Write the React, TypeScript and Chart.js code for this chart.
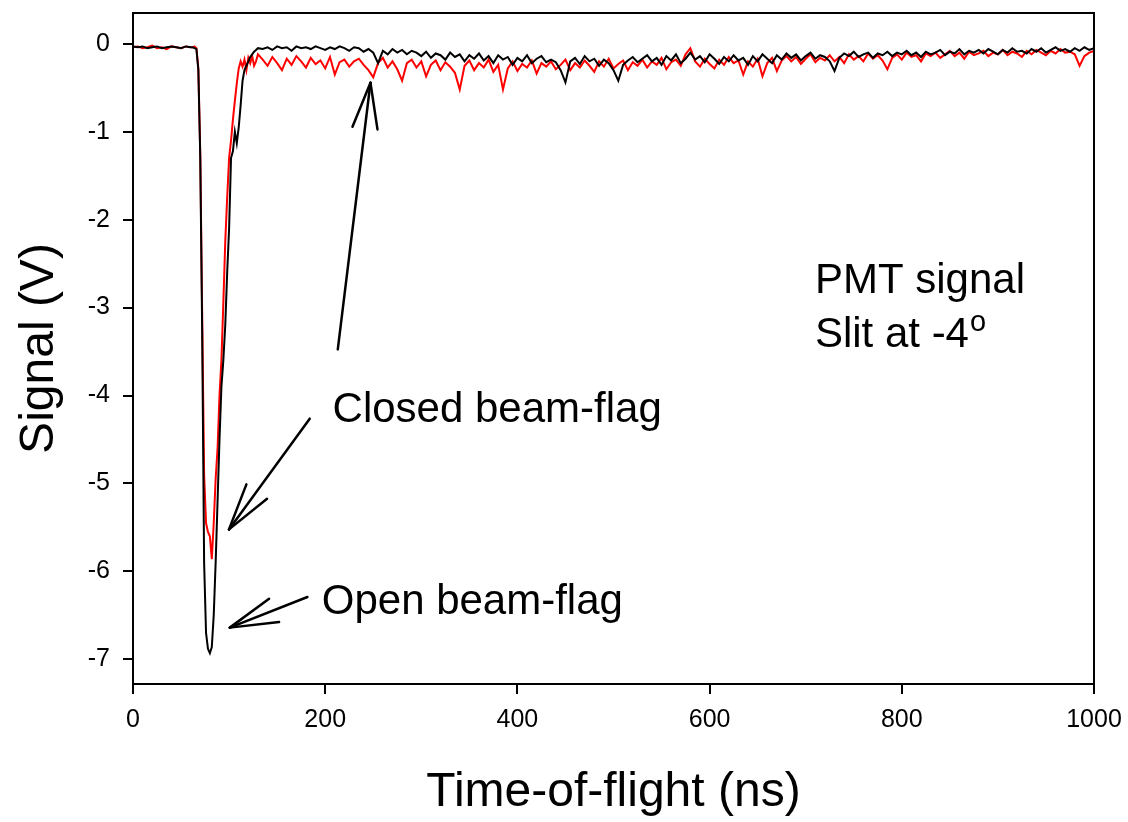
import React, { useEffect, useRef } from "react";
import { Chart, registerables } from "chart.js";

Chart.register(...registerables);

// ---- data (ns, V) ----
const timeNs = [
  0, 5, 10, 15, 20, 25, 30, 35, 40, 45, 50, 55, 60,
  62, 64, 66, 68, 70, 72, 74, 76, 78, 80, 82, 84, 86, 88, 90, 92, 94, 96, 98, 100,
  102, 104, 106, 108, 110, 112, 114, 116, 118, 120, 122, 124, 126, 128, 130,
  135, 140, 145, 150, 155, 160, 165, 170, 175, 180,
  185, 190, 195, 200, 205, 210, 215, 220, 225, 230,
  235, 240, 245, 250, 255, 260, 265, 270, 275, 280,
  285, 290, 295, 300, 305, 310, 315, 320, 325, 330,
  335, 340, 345, 350, 355, 360, 365, 370, 375, 380,
  385, 390, 395, 400, 405, 410, 415, 420, 425, 430,
  435, 440, 445, 450, 455, 460, 465, 470, 475, 480,
  485, 490, 495, 500, 505, 510, 515, 520, 525, 530,
  535, 540, 545, 550, 555, 560, 565, 570, 575, 580,
  585, 590, 595, 600, 605, 610, 615, 620, 625, 630,
  635, 640, 645, 650, 655, 660, 665, 670, 675, 680,
  685, 690, 695, 700, 705, 710, 715, 720, 725, 730,
  735, 740, 745, 750, 755, 760, 765, 770, 775, 780,
  785, 790, 795, 800, 805, 810, 815, 820, 825, 830,
  835, 840, 845, 850, 855, 860, 865, 870, 875, 880,
  885, 890, 895, 900, 905, 910, 915, 920, 925, 930,
  935, 940, 945, 950, 955, 960, 965, 970, 975, 980,
  985, 990, 995, 1000,
];

const openFlagV = [
  -0.03, -0.04, -0.03, -0.05, -0.04, -0.03, -0.05, -0.04, -0.03, -0.04, -0.05, -0.03, -0.04,
  -0.04, -0.05, -0.06, -0.3, -1.3, -3.3, -5.9, -6.7, -6.88, -6.93,
  -6.86, -6.5, -5.9, -5.2, -4.5, -3.9, -3.6, -3.2, -2.6, -2.1,
  -1.3, -1.22, -1.0, -1.13, -0.95, -0.7, -0.42, -0.3, -0.25, -0.2,
  -0.15, -0.12, -0.09, -0.07, -0.05,
  -0.06, -0.04, -0.07, -0.03, -0.05, -0.04, -0.08, -0.03, -0.05, -0.04,
  -0.06, -0.03, -0.05, -0.07, -0.04, -0.06, -0.03, -0.05, -0.08, -0.04,
  -0.05, -0.09, -0.06, -0.1, -0.22, -0.08, -0.12, -0.06, -0.1, -0.07,
  -0.12, -0.08, -0.1, -0.14, -0.09, -0.16, -0.11, -0.13, -0.18, -0.1,
  -0.15, -0.12, -0.2, -0.13, -0.17, -0.11, -0.19, -0.14, -0.22, -0.13,
  -0.18, -0.15, -0.24, -0.16, -0.2, -0.13, -0.22, -0.17, -0.14, -0.21,
  -0.18, -0.21, -0.3, -0.44, -0.2, -0.16, -0.23, -0.14, -0.2, -0.17,
  -0.25, -0.18, -0.22, -0.3, -0.42, -0.24, -0.19, -0.15, -0.21, -0.17,
  -0.13, -0.2, -0.16, -0.24, -0.14, -0.19, -0.12, -0.22, -0.17, -0.1,
  -0.18, -0.14, -0.21, -0.12, -0.17, -0.23, -0.15, -0.2, -0.13, -0.19,
  -0.16, -0.24, -0.14, -0.2, -0.12, -0.17, -0.22, -0.13, -0.18, -0.11,
  -0.16, -0.12, -0.19, -0.14, -0.1, -0.17, -0.13, -0.15, -0.2, -0.31,
  -0.16, -0.11, -0.14, -0.09, -0.15, -0.12, -0.1, -0.16, -0.11, -0.13,
  -0.09, -0.14, -0.1, -0.12, -0.08, -0.13, -0.1, -0.15, -0.09, -0.12,
  -0.1, -0.07, -0.13, -0.09, -0.11, -0.06, -0.12, -0.08, -0.1, -0.07,
  -0.11, -0.06, -0.09, -0.12, -0.07, -0.1, -0.05, -0.09, -0.08, -0.11,
  -0.06, -0.09, -0.05, -0.1, -0.07, -0.04, -0.08, -0.06, -0.09, -0.05,
  -0.08, -0.04, -0.07, -0.05,
];

const closedFlagV = [
  -0.04, -0.03, -0.05, -0.04, -0.02, -0.05, -0.04, -0.06, -0.03, -0.04, -0.05, -0.03, -0.04,
  -0.04, -0.03, -0.05, -0.28, -1.25, -3.1, -4.9, -5.45, -5.55, -5.6,
  -5.86, -5.45, -4.95, -4.6, -4.0, -3.6, -2.95, -2.25, -1.75, -1.3,
  -1.1, -0.86, -0.65, -0.45, -0.28, -0.2, -0.26, -0.18, -0.3, -0.16,
  -0.22, -0.14, -0.25, -0.2, -0.12,
  -0.18, -0.25, -0.15, -0.22, -0.3, -0.17, -0.24, -0.14, -0.2, -0.27,
  -0.16, -0.23, -0.19, -0.28, -0.15, -0.35, -0.21, -0.18, -0.26, -0.2,
  -0.17, -0.24, -0.3, -0.38, -0.22, -0.16, -0.27, -0.2, -0.29, -0.42,
  -0.22, -0.18, -0.27, -0.2, -0.37, -0.24, -0.19, -0.3, -0.21, -0.26,
  -0.33, -0.52, -0.25, -0.19, -0.3, -0.22, -0.27, -0.18, -0.32, -0.24,
  -0.52, -0.28, -0.2, -0.31, -0.23, -0.27, -0.19, -0.34, -0.22, -0.26,
  -0.2, -0.29, -0.24, -0.18, -0.3, -0.22, -0.27, -0.19, -0.25, -0.32,
  -0.2, -0.26, -0.17, -0.28, -0.23, -0.19, -0.3, -0.21, -0.25, -0.18,
  -0.27, -0.2, -0.24, -0.16, -0.29, -0.21, -0.18, -0.25, -0.12, -0.05,
  -0.2, -0.26, -0.17, -0.23, -0.28, -0.18, -0.24, -0.15, -0.22, -0.19,
  -0.35, -0.2, -0.26, -0.17, -0.37, -0.22, -0.16, -0.31, -0.19, -0.14,
  -0.2, -0.15, -0.23, -0.17, -0.12, -0.21, -0.16, -0.19, -0.13, -0.2,
  -0.15, -0.22, -0.12, -0.18, -0.14, -0.2, -0.11, -0.17, -0.13, -0.19,
  -0.29, -0.16, -0.12, -0.18, -0.1, -0.15, -0.13, -0.2, -0.11, -0.14,
  -0.1, -0.16, -0.12, -0.08, -0.14, -0.1, -0.17, -0.09, -0.13, -0.11,
  -0.08, -0.14, -0.1, -0.12, -0.07, -0.13, -0.09, -0.11, -0.15, -0.08,
  -0.12, -0.07, -0.1, -0.13, -0.08, -0.11, -0.06, -0.1, -0.09, -0.12,
  -0.25, -0.14, -0.1, -0.08,
];

const xTicks = [0, 200, 400, 600, 800, 1000];
const yTicks = [0, -1, -2, -3, -4, -5, -6, -7];

// annotations in data units (ns, V)
const arrows = [
  { tail: [183.9, -4.263], tip: [99.9, -5.522], armA: [118.0, -5.01], armB: [139.5, -5.173] },
  { tail: [181.5, -6.291], tip: [100.7, -6.639], armA: [141.6, -6.31], armB: [152.0, -6.576] },
  { tail: [213.1, -3.475], tip: [247.1, -0.443], armA: [228.4, -0.944], armB: [254.4, -0.974] },
];
const notes = [
  { text: "Closed beam-flag", at: [207.7, -4.305] },
  { text: "Open beam-flag", at: [196.4, -6.488] },
  { text: "PMT signal", at: [709.6, -2.83] },
  { text: "Slit at -4", at: [709.6, -3.453], sup: "o" },
];

const FONT = "'Liberation Sans', Arial, Helvetica, sans-serif";

const overlay = {
  id: "overlay",
  afterDatasetsDraw(chart: any) {
    const { ctx, chartArea, scales } = chart;
    const xs = scales.x;
    const ys = scales.y;
    const px = (p: number[]) => [xs.getPixelForValue(p[0]), ys.getPixelForValue(p[1])];
    ctx.save();
    ctx.strokeStyle = "#000";
    ctx.lineWidth = 2;
    ctx.strokeRect(chartArea.left, chartArea.top, chartArea.right - chartArea.left, chartArea.bottom - chartArea.top);

    ctx.lineWidth = 2.5;
    ctx.lineCap = "round";
    for (const a of arrows) {
      const tip = px(a.tip);
      for (const end of [a.tail, a.armA, a.armB]) {
        const e = px(end);
        ctx.beginPath();
        ctx.moveTo(e[0], e[1]);
        ctx.lineTo(tip[0], tip[1]);
        ctx.stroke();
      }
    }

    ctx.fillStyle = "#000";
    ctx.textBaseline = "alphabetic";
    ctx.textAlign = "left";
    for (const n of notes) {
      const p = px(n.at);
      ctx.font = `42px ${FONT}`;
      ctx.fillText(n.text, p[0], p[1]);
      if (n.sup) {
        const w = ctx.measureText(n.text).width;
        ctx.font = `29px ${FONT}`;
        ctx.fillText(n.sup, p[0] + w + 1, p[1] - 16);
      }
    }
    ctx.restore();
  },
};

export default function App() {
  const ref = useRef<HTMLCanvasElement | null>(null);

  useEffect(() => {
    if (!ref.current) return;
    const chart = new Chart(ref.current, {
      type: "line",
      data: {
        datasets: [
          {
            label: "Open beam-flag",
            data: timeNs.map((t, i) => ({ x: t, y: openFlagV[i] })),
            borderColor: "#000000",
            borderWidth: 2,
            pointRadius: 0,
            tension: 0,
            fill: false,
          },
          {
            label: "Closed beam-flag",
            data: timeNs.map((t, i) => ({ x: t, y: closedFlagV[i] })),
            borderColor: "#ff0000",
            borderWidth: 2,
            pointRadius: 0,
            tension: 0,
            fill: false,
          },
        ],
      },
      options: {
        animation: false,
        responsive: false,
        devicePixelRatio: 1,
        layout: { autoPadding: false, padding: { top: 13, right: 34, left: 0, bottom: 0 } },
        plugins: { legend: { display: false }, tooltip: { enabled: false } },
        scales: {
          x: {
            type: "linear",
            min: 0,
            max: 1000,
            afterFit: (s: any) => { s.height = 138; s.paddingLeft = 0; s.paddingRight = 0; },
            afterBuildTicks: (s: any) => { s.ticks = xTicks.map((v) => ({ value: v })); },
            grid: { display: true, drawOnChartArea: false, drawTicks: true, tickLength: 10, color: "#000", lineWidth: 2 },
            border: { display: false },
            ticks: { color: "#000", font: { family: FONT, size: 25 }, padding: 11, maxRotation: 0, autoSkip: false, callback: (v: any) => String(v) },
            title: { display: true, text: "Time-of-flight (ns)", color: "#000", font: { family: FONT, size: 48, lineHeight: 1.2 }, padding: { top: 0, bottom: 0 } },
          },
          y: {
            type: "linear",
            min: -7.28,
            max: 0.35,
            afterFit: (s: any) => { s.width = 133; s.paddingTop = 0; s.paddingBottom = 0; },
            afterBuildTicks: (s: any) => { s.ticks = yTicks.map((v) => ({ value: v })); },
            grid: { display: true, drawOnChartArea: false, drawTicks: true, tickLength: 10, color: "#000", lineWidth: 2 },
            border: { display: false },
            ticks: { color: "#000", font: { family: FONT, size: 25 }, padding: 13, autoSkip: false, callback: (v: any) => String(v) },
            title: { display: true, text: "Signal (V)", color: "#000", font: { family: FONT, size: 48, lineHeight: 1.2 }, padding: { top: 11, bottom: 0 } },
          },
        },
      },
      plugins: [overlay],
    } as any);
    return () => chart.destroy();
  }, []);

  return (
    <div style={{ position: "fixed", left: 0, top: 0, width: 1128, height: 822, background: "#fff" }}>
      <canvas ref={ref} width={1128} height={822} style={{ display: "block" }} />
    </div>
  );
}
